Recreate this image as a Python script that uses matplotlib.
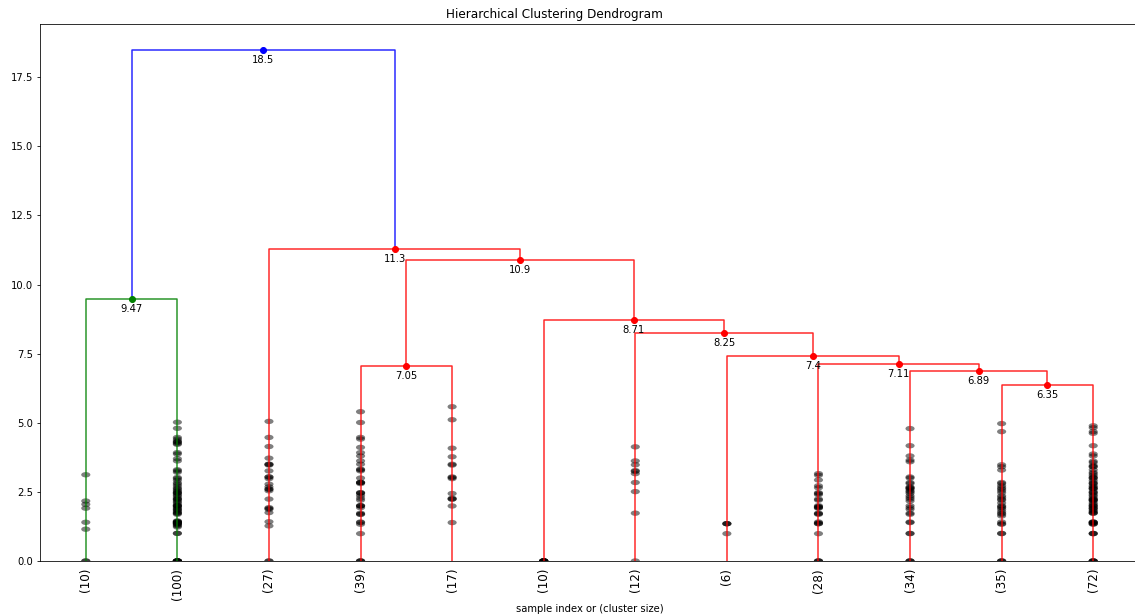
import matplotlib
matplotlib.use("Agg")
import matplotlib.pyplot as plt
from matplotlib.patches import Ellipse

# ---------------- data ----------------
leaf_labels = ["(10)", "(100)", "(27)", "(39)", "(17)", "(10)",
               "(12)", "(6)", "(28)", "(34)", "(35)", "(72)"]

# merges: (left child, right child, height); leaves 0..11, new nodes 12..
merge_left = [0, 10, 9, 8, 7, 6, 5, 3, 19, 2, 12]
merge_right = [1, 11, 13, 14, 15, 16, 17, 4, 18, 20, 21]
merge_height = [9.47, 6.35, 6.89, 7.11, 7.40, 8.25, 8.71, 7.05, 10.9, 11.3, 18.5]
merge_color = ["g", "r", "r", "r", "r", "r", "r", "r", "r", "r", "b"]

# contracted merge distances inside each truncated leaf cluster
contr_0 = [3.12, 2.17, 2.05, 1.91, 1.40, 1.15, 0.0, 0.0]
contr_1 = [5.02, 4.80, 4.47, 4.41, 4.35, 4.30, 4.25, 4.22, 3.92, 3.87, 3.70,
           3.62, 3.30, 3.26, 3.21, 3.02, 2.98, 2.92, 2.83, 2.78, 2.72, 2.65,
           2.61, 2.56, 2.52, 2.47, 2.44, 2.39, 2.35, 2.29, 2.24, 2.20, 2.15,
           2.11, 2.05, 2.00, 1.99, 1.95, 1.91, 1.87, 1.81, 1.77, 1.73, 1.69,
           1.45, 1.43, 1.41, 1.39, 1.36, 1.35, 1.33, 1.30, 1.27, 1.23, 1.00,
           1.00, 2.47, 2.24, 2.00, 1.73, 1.41, 4.30, 1.38, 1.85,
           0.0, 0.0, 0.0, 0.0, 0.0, 0.0, 0.0, 0.0]
contr_2 = [5.05, 4.47, 4.14, 3.72, 3.50, 3.47, 3.50, 3.26, 3.04, 2.98, 3.04,
           2.78, 2.68, 2.60, 2.54, 2.60, 2.24, 1.93, 1.87, 1.90, 1.75, 1.42,
           1.27, 0.0, 0.0]
contr_3 = [5.40, 5.01, 4.47, 4.41, 4.11, 3.92, 3.80, 3.62, 3.50, 3.32, 3.26,
           3.00, 2.84, 2.84, 2.80, 2.47, 2.44, 2.36, 2.27, 2.20, 1.99, 2.00,
           1.93, 1.73, 1.69, 1.69, 1.39, 1.41, 1.33, 0.99, 0.0, 0.0, 0.0,
           2.84, 2.00, 3.30, 2.47]
contr_4 = [5.58, 5.11, 4.08, 3.77, 3.50, 3.47, 3.04, 2.98, 3.02, 2.44, 2.24,
           2.24, 1.99, 1.39, 2.27]
contr_5 = [0.0, 0.0, 0.0, 0.0, 0.0, 0.0, 0.0, 0.0]
contr_6 = [4.13, 3.62, 3.48, 3.24, 3.27, 3.16, 2.84, 2.51, 1.73, 0.0]
contr_7 = [1.35, 1.35, 1.35, 0.99]
contr_8 = [3.16, 3.10, 2.93, 2.72, 2.44, 2.47, 2.40, 2.20, 2.24, 1.96, 1.93,
           1.91, 1.96, 1.73, 1.71, 1.69, 1.35, 1.35, 1.38, 0.99, 2.65, 2.00,
           0.0, 0.0, 0.0, 1.41]
contr_9 = [4.79, 4.17, 3.80, 3.65, 3.59, 3.04, 3.00, 2.84, 2.80, 2.68, 2.63,
           2.60, 2.54, 2.50, 2.45, 2.36, 2.30, 2.24, 2.17, 2.00, 1.93, 1.87,
           1.69, 1.73, 1.39, 1.41, 0.99, 1.00, 0.0, 0.0, 0.0, 2.65]
contr_10 = [4.97, 4.68, 3.48, 3.41, 3.29, 2.84, 2.80, 2.72, 2.65, 2.54, 2.47,
            2.36, 2.30, 2.20, 2.24, 1.93, 2.00, 1.87, 1.79, 1.73, 1.63, 1.69,
            1.33, 1.41, 1.35, 0.99, 1.00, 0.0, 0.0, 0.0, 2.10, 1.96, 2.60]
contr_11 = [4.89, 4.82, 4.68, 4.62, 4.17, 3.87, 3.80, 3.61, 3.56, 3.41, 3.46,
            3.30, 3.16, 3.21, 3.10, 3.00, 3.04, 2.92, 2.85, 2.80, 2.72, 2.68,
            2.63, 2.60, 2.52, 2.47, 2.40, 2.36, 2.30, 2.24, 2.20, 2.17, 2.10,
            2.05, 2.00, 1.96, 1.91, 1.87, 1.82, 1.79, 1.75, 1.73, 1.41, 1.39,
            1.35, 1.33, 1.41, 1.39, 0.99, 1.00, 0.99, 2.24, 2.00, 1.91, 2.47,
            2.80, 3.00, 3.41, 2.63, 2.20, 1.73, 1.35, 0.0, 0.0, 0.0, 0.0]
contractions = [contr_0, contr_1, contr_2, contr_3, contr_4, contr_5,
                contr_6, contr_7, contr_8, contr_9, contr_10, contr_11]

# ---------------- figure ----------------
W, H, DPI = 1135, 615, 72
fig = plt.figure(figsize=(W / DPI, H / DPI), dpi=DPI)
ax = fig.add_axes([40 / W, (H - 561) / H, (1139 - 40) / W, (561 - 24) / H])

n_leaves = len(leaf_labels)
xpos = {i: 5.0 + 10.0 * i for i in range(n_leaves)}
ypos = {i: 0.0 for i in range(n_leaves)}

for k, (a, b, h, c) in enumerate(zip(merge_left, merge_right,
                                     merge_height, merge_color)):
    node = n_leaves + k
    xa, xb = xpos[a], xpos[b]
    ax.plot([xa, xa, xb, xb], [ypos[a], h, h, ypos[b]], color=c, lw=1.5,
            alpha=0.85)
    xpos[node] = 0.5 * (xa + xb)
    ypos[node] = h

max_h = max(merge_height)
dvw = max_h + max_h * 0.05
ax.set_xlim(0, 10.0 * n_leaves)
ax.set_ylim(0, dvw)

# contraction marks
for i, vals in enumerate(contractions):
    for v in vals:
        e = Ellipse((xpos[i], v), width=1.0, height=dvw / 100.0)
        e.set_facecolor("k")
        e.set_edgecolor("none")
        e.set_alpha(0.5)
        e.set_clip_box(ax.bbox)
        ax.add_artist(e)

# annotations
for k, (h, c) in enumerate(zip(merge_height, merge_color)):
    node = n_leaves + k
    x = xpos[node]
    ax.plot(x, h, "o", color=c, ms=6)
    ax.annotate("%.3g" % h, (x, h), xytext=(0, -5),
                textcoords="offset points", va="top", ha="center", fontsize=10)

ax.set_xticks([xpos[i] for i in range(n_leaves)])
ax.set_xticklabels(leaf_labels, rotation=90, fontsize=12)
for line in ax.get_xticklines():
    line.set_visible(False)
ax.set_yticks([0, 2.5, 5.0, 7.5, 10.0, 12.5, 15.0, 17.5])
ax.tick_params(axis="y", labelsize=10)

t = ax.set_title("Hierarchical Clustering Dendrogram", fontsize=12)
t.set_x(0.468)
ax.set_xlabel("sample index or (cluster size)", fontsize=10)

fig.savefig("out.png", dpi=DPI)
